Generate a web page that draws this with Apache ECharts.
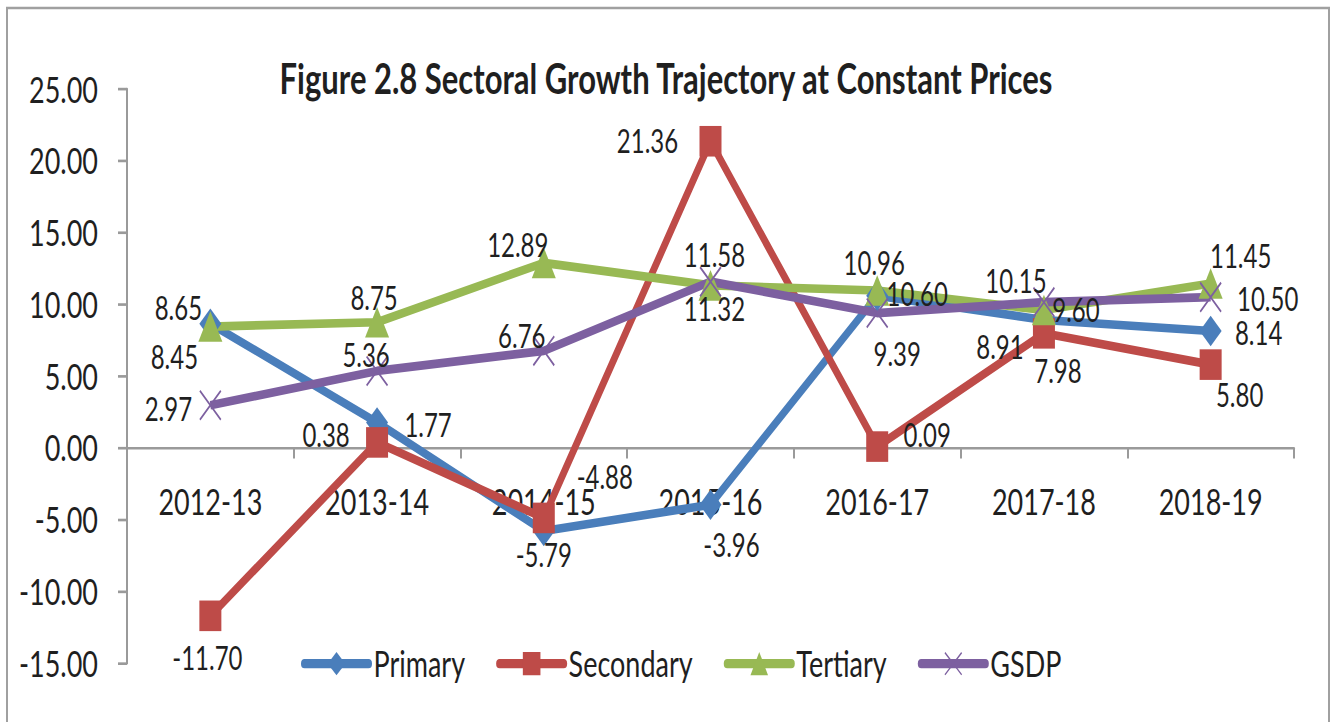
<!DOCTYPE html>
<html>
<head>
<meta charset="utf-8">
<script src="https://cdn.jsdelivr.net/npm/echarts@6/dist/echarts.min.js"></script>
<style>
  html, body { margin: 0; padding: 0; background: #fff; width: 1332px; height: 722px; }
  /* the reference is an Excel chart stretched vertically, so draw flat and stretch */
  #chart { width: 1332px; height: 543px; transform: scaleY(1.33); transform-origin: 0 0; }
</style>
</head>
<body>
<div id="chart"></div>
<script>
var years = ['2012-13', '2013-14', '2014-15', '2015-16', '2016-17', '2017-18', '2018-19'];
var primary = [8.65, 1.77, -5.79, -3.96, 10.60, 8.91, 8.14];
var secondary = [-11.70, 0.38, -4.88, 21.36, 0.09, 7.98, 5.80];
var tertiary = [8.45, 8.75, 12.89, 11.32, 10.96, 9.60, 11.45];
var gsdp = [2.97, 5.36, 6.76, 11.58, 9.39, 10.15, 10.50];
var yMin = -15, yMax = 25, yStep = 5;

// where each data label sits, relative to its point (screen pixels)
var primaryLabelOffset = [[-32, -16], [51, 2], [0, 24], [21, 40], [40, -2], [-44, 27], [48, 2]];
var secondaryLabelOffset = [[-3, 42], [-51, -8], [61, -41], [-63, -1], [50, -12], [14, 37], [29, 30]];
var tertiaryLabelOffset = [[-36, 30], [-3, -25], [-26, -18], [4, 23], [-3, -28], [32, 0], [30, -28]];
var gsdpLabelOffset = [[-42, 3], [-11, -16], [-22, -15], [4, -27], [20, 40], [-28, -22], [57, 1]];

var S = 1.33;   // vertical stretch
var font = "Lato, 'Noto Sans', sans-serif";
var textColor = '#1f1f1f';
var axisColor = '#9a9a9a';
var crossPath = 'path://M0,1L1,0L10,9L19,0L20,1L11,10L20,19L19,20L10,11L1,20L0,19L9,10Z';

var gridTop = 89 / S, gridBottom = 59 / S;
var gridHeight = 722 / S - gridTop - gridBottom;

function withLabels(values, offsets) {
    return values.map(function(v, i) {
        return {
            value: v,
            label: { offset: [offsets[i][0], offsets[i][1] / S] }
        };
    });
}

function makeSeries(name, values, offsets, color, symbol, size) {
    return {
        name: name,
        type: 'line',
        data: withLabels(values, offsets),
        symbol: symbol,
        symbolSize: size,
        symbolKeepAspect: false,
        showAllSymbol: true,
        lineStyle: { color: color, width: 6.5 },
        itemStyle: { color: color },
        label: {
            show: true,
            position: 'inside',
            align: 'center',
            verticalAlign: 'middle',
            fontFamily: font,
            fontSize: 24,
            color: textColor,
            formatter: function(p) { return p.value.toFixed(2); }
        },
        emphasis: { disabled: true },
        animation: false
    };
}

var chart = echarts.init(document.getElementById('chart'), null, { renderer: 'svg' });
chart.setOption({
    backgroundColor: '#fff',
    title: {
        text: 'Figure 2.8 Sectoral Growth Trajectory at Constant Prices',
        left: 'center',
        top: 38,
        textStyle: { fontFamily: font, fontSize: 31, fontWeight: 'bold', color: textColor }
    },
    graphic: [{
        type: 'rect',
        shape: { x: 7, y: 6, width: 1322, height: 560 },
        style: { fill: 'none', stroke: '#a0a0a0', lineWidth: 2 },
        silent: true
    }],
    legend: {
        top: 663 / S - 18,
        left: 296,
        itemWidth: 64,
        itemHeight: 22,
        itemGap: 31,
        lineStyle: { width: 7, cap: 'round' },
        textStyle: { fontFamily: font, fontSize: 27, color: textColor },
        data: ['Primary', 'Secondary', 'Tertiary', 'GSDP']
    },
    grid: { left: 127, right: 38, top: gridTop, bottom: gridBottom },
    xAxis: {
        type: 'category',
        data: years,
        boundaryGap: true,
        // sit the axis on the zero line
        offset: -(0 - yMin) / (yMax - yMin) * gridHeight,
        axisLine: { onZero: false, lineStyle: { color: axisColor, width: 2 } },
        axisTick: { show: true, length: 8, lineStyle: { color: axisColor, width: 2 } },
        axisLabel: { margin: 27, fontFamily: font, fontSize: 27, color: textColor }
    },
    yAxis: {
        type: 'value',
        min: yMin,
        max: yMax,
        interval: yStep,
        axisLine: { show: true, lineStyle: { color: axisColor, width: 2 } },
        axisTick: { show: true, length: 9, lineStyle: { color: axisColor, width: 2 } },
        splitLine: { show: false },
        axisLabel: {
            margin: 29,
            fontFamily: font,
            fontSize: 27,
            color: textColor,
            formatter: function(v) { return v.toFixed(2); }
        }
    },
    series: [
        makeSeries('Primary', primary, primaryLabelOffset, '#4A7EBB', 'diamond', [22, 23]),
        makeSeries('Secondary', secondary, secondaryLabelOffset, '#BE4B48', 'rect', [22, 23]),
        makeSeries('Tertiary', tertiary, tertiaryLabelOffset, '#98B954', 'triangle', [24, 23]),
        makeSeries('GSDP', gsdp, gsdpLabelOffset, '#7D60A0', crossPath, [22, 23])
    ]
});
</script>
</body>
</html>
